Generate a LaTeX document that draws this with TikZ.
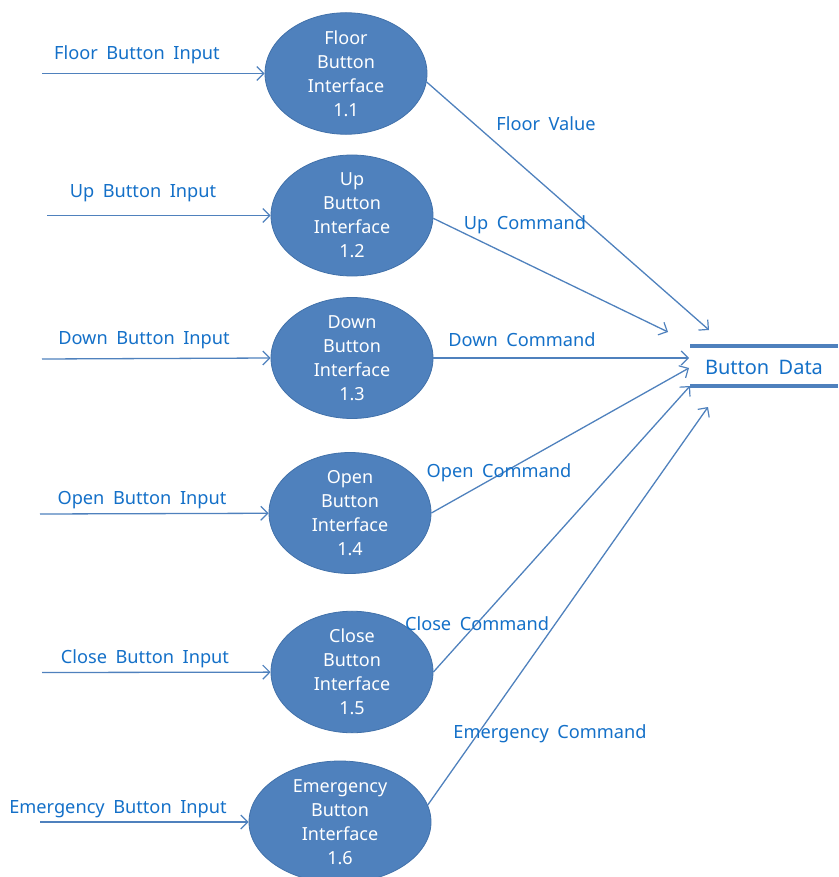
\documentclass[tikz,border=0pt]{standalone}
\usepackage{fontspec}
\setmainfont{Noto Sans}[WordSpace=1.8]
\usetikzlibrary{arrows.meta,shapes.geometric}
\definecolor{procfill}{RGB}{79,129,189}
\definecolor{procline}{RGB}{65,113,170}
\definecolor{flowline}{RGB}{79,129,189}
\definecolor{labeltext}{RGB}{20,112,200}
\begin{document}
\begin{tikzpicture}[x=1pt,y=-1pt,
  font=\fontsize{18.2}{24}\selectfont,
  process/.style={ellipse, fill=procfill, draw=procline, line width=0.8pt,
    minimum width=162pt, minimum height=121pt, inner sep=0pt,
    text=white, align=center, font=\fontsize{18}{24}\selectfont},
  flow/.style={draw=flowline, line width=1.3pt,
    -{Straight Barb[length=7pt,width=14pt,line width=1.2pt]}},
  lbl/.style={text=labeltext, inner sep=0pt},
  storeline/.style={draw=flowline, line width=3.5pt}]
\useasboundingbox (0,0) rectangle (838,877);

% processes
\node[process] (e1) at (346,73.5) {Floor\\Button\\Interface\\1.1};
\node[process] (e2) at (352,215.5) {Up\\Button\\Interface\\1.2};
\node[process] (e3) at (352,358) {Down\\Button\\Interface\\1.3};
\node[process] (e4) at (350,513) {Open\\Button\\Interface\\1.4};
\node[process] (e5) at (352,672) {Close\\Button\\Interface\\1.5};
\node[process, minimum width=182pt, minimum height=122pt] (e6) at (340,822) {Emergency\\Button\\Interface\\1.6};

% data store
\node[lbl, font=\fontsize{20}{24}\selectfont] (store) at (764,367) {Button Data};
\draw[storeline] (690,346) -- (838,346);
\draw[storeline] (690,386) -- (838,386);

% external inputs
\coordinate (i1) at (42,73.5);
\coordinate (i2) at (47,215.5);
\coordinate (i3) at (42,359);
\coordinate (i4) at (40,514);
\coordinate (i5) at (42,672.5);
\coordinate (i6) at (40,822);
\draw[flow] (i1) -- (e1);
\draw[flow] (i2) -- (e2);
\draw[flow] (i3) -- (e3.west);
\draw[flow] (i4) -- (e4);
\draw[flow] (i5) -- (e5);
\draw[flow] (i6) -- (e6);
\node[lbl] (l1) at (137,55) {Floor Button Input};
\node[lbl] (l2) at (143,193) {Up Button Input};
\node[lbl] (l3) at (144,340) {Down Button Input};
\node[lbl] (l4) at (142,500) {Open Button Input};
\node[lbl] (l5) at (145,659) {Close Button Input};
\node[lbl] (l6) at (118,809) {Emergency Button Input};

% arrow ends at the data store
\coordinate (t1) at (709,330);
\coordinate (t2) at (668,332);
\coordinate (t3) at (689,358);
\coordinate (t4) at (689,368);
\coordinate (t5) at (690,386);
\coordinate (t6) at (708,407);
\draw[flow] (e1.-6) -- (t1);
\draw[flow] (e2.-2) -- (t2);
\draw[flow] (e3.east) -- (t3);
\draw[flow] (e4.east) -- (t4);
\draw[flow] (e5.east) -- (t5);
\draw[flow] (e6.11) -- (t6);
\node[lbl] (o1) at (546,124) {Floor Value};
\node[lbl] (o2) at (525,225) {Up Command};
\node[lbl] (o3) at (522,340) {Down Command};
\node[lbl] (o4) at (499,473) {Open Command};
\node[lbl] (o5) at (477,624) {Close Command};
\node[lbl] (o6) at (550,734) {Emergency Command};
\end{tikzpicture}
\end{document}
